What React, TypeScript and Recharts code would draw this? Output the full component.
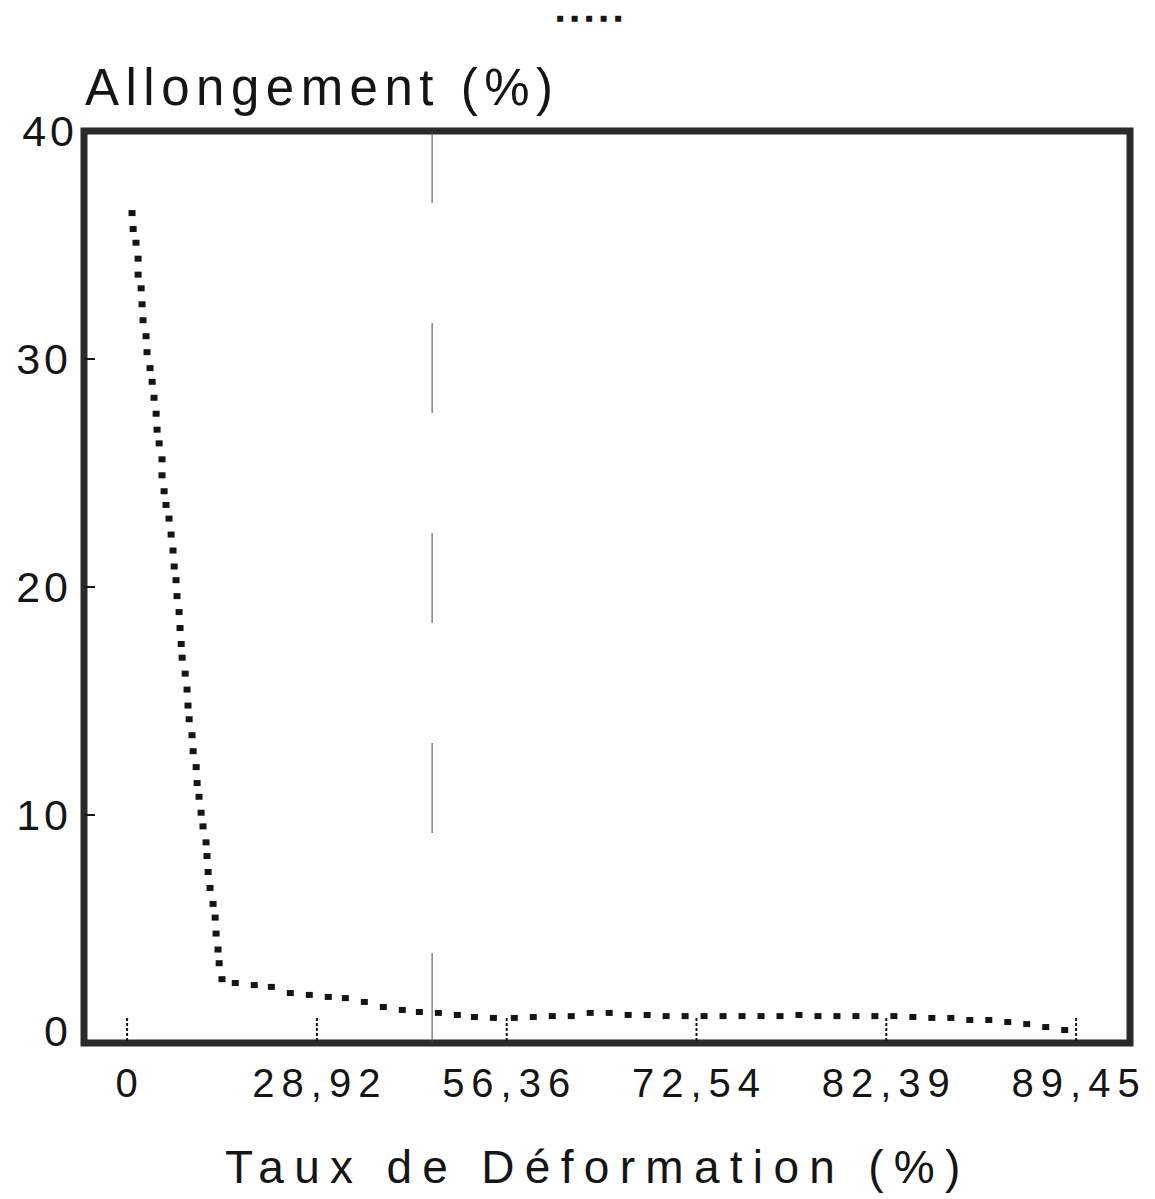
import { ReferenceArea, ReferenceLine, Scatter, ScatterChart, XAxis, YAxis } from 'recharts'

// sample position along the test (10 units between two x labels)
const POSITION = [
	0.26, 0.32, 0.47, 0.58, 0.58, 0.74, 0.79, 0.84, 1.0, 1.05, 1.21, 1.32, 1.42,
	1.53, 1.58, 1.69, 1.84, 1.84, 1.95, 2.05, 2.21, 2.32, 2.42, 2.48, 2.58, 2.63,
	2.74, 2.79, 2.85, 2.9, 3.06, 3.16, 3.21, 3.27, 3.42, 3.48, 3.64, 3.69, 3.79,
	3.9, 4.0, 4.16, 4.21, 4.27, 4.37, 4.53, 4.64, 4.69, 4.79, 4.85, 5.0,
	5.7, 6.7, 7.6, 8.6, 9.6, 10.6, 11.5, 12.5, 13.5, 14.5, 15.4, 16.4, 17.4, 18.3,
	19.3, 20.4, 21.4, 22.4, 23.4, 24.4, 25.4, 26.4, 27.4, 28.4, 29.4, 30.4, 31.4,
	32.4, 33.4, 34.4, 35.4, 36.4, 37.4, 38.4, 39.4, 40.4, 41.4, 42.4, 43.4, 44.4,
	45.4, 46.4, 47.4, 48.4, 49.4,
]

// Allongement (%)
const ALLONGEMENT = [
	36.4, 35.7, 35.1, 34.4, 33.7, 33.1, 32.4, 31.7, 31.0, 30.3, 29.6, 29.0, 28.3,
	27.6, 26.9, 26.3, 25.6, 24.9, 24.2, 23.6, 23.0, 22.3, 21.6, 20.9, 20.3, 19.6,
	18.9, 18.2, 17.5, 16.9, 16.2, 15.5, 14.8, 14.2, 13.5, 12.8, 12.1, 11.4, 10.8,
	10.1, 9.5, 8.8, 8.2, 7.5, 6.8, 6.1, 5.5, 4.8, 4.1, 3.5, 2.8,
	2.63, 2.54, 2.46, 2.19, 2.11, 2.02, 1.97, 1.8, 1.58, 1.45, 1.36, 1.32, 1.23,
	1.14, 1.1, 1.1, 1.14, 1.18, 1.18, 1.32, 1.32, 1.23, 1.23, 1.18, 1.18, 1.18,
	1.18, 1.18, 1.18, 1.18, 1.23, 1.18, 1.18, 1.18, 1.18, 1.18, 1.14, 1.1, 1.1,
	1.01, 1.01, 0.92, 0.83, 0.7, 0.57,
]

const X_TICKS = [0, 10, 20, 30, 40, 50]
const X_LABELS = ['0', '28,92', '56,36', '72,54', '82,39', '89,45']
const Y_TICKS = [0, 10, 20, 30, 40]

const X_DOMAIN = [-2.27, 52.84]
const FONT = '"Liberation Sans", Arial, Helvetica, sans-serif'
const INK = '#151515'

const data = POSITION.map((x, i) => ({ x, y: ALLONGEMENT[i] }))

const XTick = (props: any) => {
	const { x, y, payload } = props
	const label = X_LABELS[X_TICKS.indexOf(payload.value)]
	return (
		<g>
			<line
				stroke={INK}
				strokeDasharray="3 2"
				strokeWidth={2}
				x1={x}
				x2={x}
				y1={y - 25}
				y2={y - 1}
			/>
			<text
				fill={INK}
				fontFamily={FONT}
				fontSize={40}
				letterSpacing={7}
				textAnchor="middle"
				x={x + 3}
				y={y + 54}
			>
				{label}
			</text>
		</g>
	)
}

const YTickLeft = (props: any) => {
	const { x, y, payload } = props
	return (
		<g>
			{payload.value > 0 && payload.value < 40 && (
				<line stroke={INK} strokeWidth={2} x1={x + 1} x2={x + 11} y1={y} y2={y} />
			)}
			<text
				dominantBaseline="central"
				fill={INK}
				fontFamily={FONT}
				fontSize={43}
				letterSpacing={4}
				textAnchor="end"
				x={payload.value === 40 ? x - 6 : x - 12}
				y={payload.value === 0 ? y - 12 : y}
			>
				{payload.value}
			</text>
		</g>
	)
}

const YTickRight = (props: any) => {
	const { x, y, payload } = props
	if (payload.value === 0 || payload.value === 40) return <g />
	return <line stroke={INK} strokeWidth={2} x1={x - 13} x2={x - 1} y1={y} y2={y} />
}

const Marker = (props: any) => {
	const { cx, cy } = props
	if (cx == null || cy == null) return <g />
	return <rect fill={INK} height={6} width={7} x={cx - 3.5} y={cy - 3} />
}

export default function App() {
	return (
		<div
			style={{
				position: 'absolute',
				left: 0,
				top: 0,
				width: 1155,
				height: 1199,
				background: '#fff',
			}}
		>
			<ScatterChart
				height={1199}
				margin={{ top: 131, right: 24, bottom: 155, left: 83 }}
				width={1155}
			>
				<XAxis
					axisLine={false}
					dataKey="x"
					domain={X_DOMAIN}
					height={1}
					interval={0}
					tick={<XTick />}
					tickLine={false}
					tickMargin={0}
					tickSize={0}
					ticks={X_TICKS}
					type="number"
				/>
				<YAxis
					axisLine={false}
					dataKey="y"
					domain={[0, 40]}
					interval={0}
					tick={<YTickLeft />}
					tickLine={false}
					tickMargin={0}
					tickSize={0}
					ticks={Y_TICKS}
					type="number"
					width={1}
					yAxisId="left"
				/>
				<YAxis
					axisLine={false}
					domain={[0, 40]}
					interval={0}
					orientation="right"
					tick={<YTickRight />}
					tickLine={false}
					tickMargin={0}
					tickSize={0}
					ticks={Y_TICKS}
					type="number"
					width={1}
					yAxisId="right"
				/>
				<ReferenceLine
					ifOverflow="visible"
					stroke="#444"
					strokeDasharray="90 120"
					strokeWidth={1}
					x={16.07}
					yAxisId="left"
				/>
				<ReferenceArea
					fill="none"
					ifOverflow="visible"
					stroke="#2a2a2a"
					strokeWidth={7}
					x1={X_DOMAIN[0]}
					x2={X_DOMAIN[1]}
					y1={0}
					y2={40}
					yAxisId="left"
				/>
				<Scatter
					data={data}
					isAnimationActive={false}
					shape={<Marker />}
					yAxisId="left"
				/>
			</ScatterChart>
			<svg
				height={1199}
				style={{ position: 'absolute', left: 0, top: 0, pointerEvents: 'none' }}
				width={1155}
			>
				<text
					dominantBaseline="central"
					fill={INK}
					fontFamily={FONT}
					fontSize={24}
					letterSpacing={6}
					x={556}
					y={17}
				>
					▪▪▪▪▪
				</text>
				<text
					fill={INK}
					fontFamily={FONT}
					fontSize={51}
					letterSpacing={6.5}
					x={85}
					y={105}
				>
					Allongement (%)
				</text>
				<text
					fill={INK}
					fontFamily={FONT}
					fontSize={46}
					letterSpacing={10.3}
					x={225}
					y={1183}
				>
					Taux de Déformation (%)
				</text>
			</svg>
		</div>
	)
}
